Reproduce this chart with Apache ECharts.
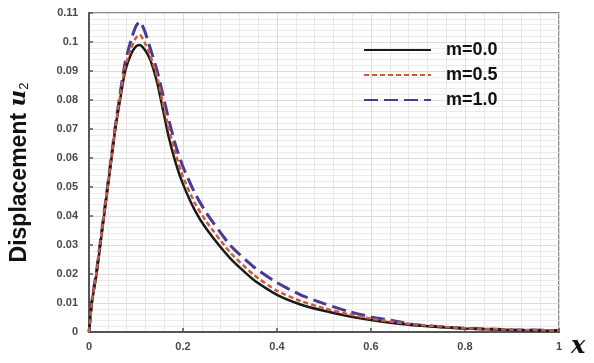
<!DOCTYPE html>
<html><head><meta charset="utf-8">
<script src="https://cdn.jsdelivr.net/npm/echarts@6/dist/echarts.min.js"></script>
<style>html,body{margin:0;padding:0;background:#fff}#c{width:594px;height:363px}</style>
</head><body><div id="c"></div>
<script>
const xs = [0, 0.006, 0.016, 0.024, 0.032, 0.04, 0.048, 0.056, 0.066, 0.077, 0.09, 0.1, 0.108, 0.118, 0.13, 0.145, 0.157, 0.17, 0.185, 0.2, 0.225, 0.25, 0.3, 0.35, 0.4, 0.45, 0.5, 0.55, 0.6, 0.65, 0.7, 0.8, 0.9, 1.0];
const m00 = [0, 0.01, 0.02, 0.03, 0.04, 0.05, 0.06, 0.07, 0.08, 0.09, 0.096, 0.0985, 0.099, 0.0975, 0.094, 0.086, 0.077, 0.067, 0.058, 0.051, 0.042, 0.0355, 0.0255, 0.018, 0.0128, 0.0095, 0.0073, 0.0055, 0.0041, 0.003, 0.0022, 0.0012, 0.0007, 0.0004];
const m05 = [0, 0.01, 0.0205, 0.0305, 0.0405, 0.0505, 0.0605, 0.0705, 0.081, 0.0915, 0.098, 0.1015, 0.1025, 0.1, 0.0955, 0.088, 0.079, 0.07, 0.061, 0.0535, 0.0445, 0.038, 0.0275, 0.0198, 0.0142, 0.0107, 0.0082, 0.0062, 0.0046, 0.0034, 0.0025, 0.0013, 0.0008, 0.0005];
const m10 = [0, 0.0105, 0.021, 0.031, 0.041, 0.051, 0.061, 0.071, 0.082, 0.093, 0.101, 0.1055, 0.107, 0.104, 0.098, 0.09, 0.082, 0.073, 0.064, 0.057, 0.048, 0.041, 0.030, 0.0225, 0.017, 0.0128, 0.0098, 0.0072, 0.0052, 0.0038, 0.0024, 0.0013, 0.0008, 0.0005];
const seriesNames = ['m=0.0', 'm=0.5', 'm=1.0'];
const xTicks = {min: 0, max: 1, interval: 0.2};
const yTicks = {min: 0, max: 0.11, interval: 0.01};

const pairs = v => xs.map((x, i) => [x, v[i]]);
const chart = echarts.init(document.getElementById('c'), null, {renderer: 'canvas'});
const labelStyle = {color: '#4a4a4a', fontWeight: 'bold', fontSize: 11, fontFamily: 'Liberation Sans, Arial, sans-serif'};
chart.setOption({
  animation: false,
  backgroundColor: '#fff',
  grid: {left: 89, right: 35, top: 13, bottom: 31, show: true, borderColor: '#666', borderWidth: 1.5},
  legend: {
    orient: 'vertical', left: 358, top: 36, itemWidth: 67, itemHeight: 18, itemGap: 7,
    itemStyle: {opacity: 0},
    textStyle: {fontSize: 18, fontWeight: 'bold', color: '#111', fontFamily: 'Liberation Sans, Arial, sans-serif', padding: [0, 0, 0, 10]},
    data: seriesNames
  },
  xAxis: {
    type: 'value', min: xTicks.min, max: xTicks.max, interval: xTicks.interval,
    axisLine: {show: true, lineStyle: {color: '#555', width: 2}},
    axisTick: {show: true, inside: true, length: 4, lineStyle: {color: '#555', width: 1.5}},
    axisLabel: Object.assign({margin: 9}, labelStyle),
    splitLine: {show: true, lineStyle: {color: '#dcdcdc', width: 1}},
    minorTick: {show: false, splitNumber: 5},
    minorSplitLine: {show: true, lineStyle: {color: '#ebe6e6', width: 1}},
    name: 'x', nameLocation: 'end', nameGap: 12,
    nameTextStyle: {fontFamily: 'DejaVu Serif, serif', fontStyle: 'italic', fontWeight: 'bold', fontSize: 24, color: '#111', verticalAlign: 'top', padding: [3, 0, 0, 0]}
  },
  yAxis: {
    type: 'value', min: yTicks.min, max: yTicks.max, interval: yTicks.interval,
    axisLine: {show: true, lineStyle: {color: '#555', width: 2}},
    axisTick: {show: true, inside: true, length: 4, lineStyle: {color: '#555', width: 1.5}},
    axisLabel: Object.assign({margin: 11}, labelStyle),
    splitLine: {show: true, lineStyle: {color: '#dcdcdc', width: 1}},
    minorTick: {show: false, splitNumber: 5},
    minorSplitLine: {show: true, lineStyle: {color: '#ebebeb', width: 1}},
    name: '{a|Displacement }{u|u}{s|2}', nameLocation: 'middle', nameGap: 58,
    nameTextStyle: {
      rich: {
        a: {fontFamily: 'Liberation Sans, Arial, sans-serif', fontWeight: 'bold', fontSize: 23, color: '#111'},
        u: {fontFamily: 'DejaVu Serif, serif', fontStyle: 'italic', fontWeight: 'bold', fontSize: 23, color: '#111'},
        s: {fontFamily: 'Liberation Sans, Arial, sans-serif', fontSize: 13, color: '#111', padding: [10, 0, 0, 0]}
      }
    }
  },
  series: [
    {name: seriesNames[0], type: 'line', data: pairs(m00), showSymbol: false, symbol: 'none', smooth: 0.2,
     lineStyle: {color: '#1a1a1a', width: 2.5, type: 'solid'}, itemStyle: {color: '#1a1a1a'}, z: 3},
    {name: seriesNames[1], type: 'line', data: pairs(m05), showSymbol: false, symbol: 'none', smooth: 0.2,
     lineStyle: {color: '#cc5a3c', width: 2.5, type: [5, 3]}, itemStyle: {color: '#cc5a3c'}, z: 4},
    {name: seriesNames[2], type: 'line', data: pairs(m10), showSymbol: false, symbol: 'none', smooth: 0.2,
     lineStyle: {color: '#463c98', width: 3, type: [14, 6]}, itemStyle: {color: '#463c98'}, z: 2}
  ]
});
</script></body></html>
